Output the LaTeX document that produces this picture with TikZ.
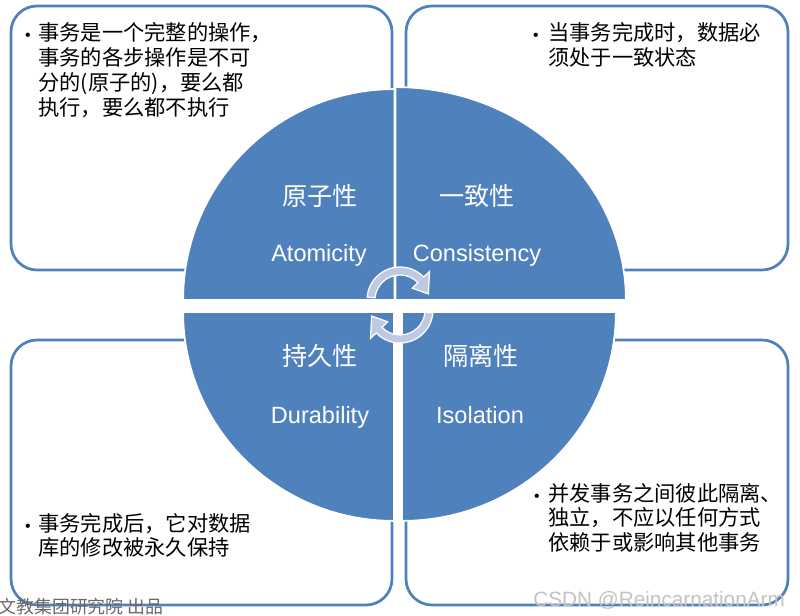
\documentclass[tikz,border=0pt]{standalone}
\usepackage{fontspec}
\setmainfont{Liberation Sans}
\newfontfamily\cjk{Noto Sans CJK SC}
\usetikzlibrary{calc}
\definecolor{acidblue}{RGB}{79,129,189}
\definecolor{arrowfill}{RGB}{190,202,226}
\definecolor{wmdark}{RGB}{105,105,105}
\definecolor{wmlight}{RGB}{195,195,195}
\begin{document}
\begin{tikzpicture}[x=0.02cm,y=0.02cm,
  panel/.style={draw=acidblue, line width=1.55pt, rounded corners=0.52cm, fill=white},
  quad/.style={fill=acidblue, draw=white, line width=1pt},
  boxtext/.style={inner sep=0pt, anchor=base west, text width=6cm, align=left, font=\cjk\fontsize{12.1pt}{0.5cm}\selectfont},
  bulletmark/.style={inner sep=0pt, anchor=base, font=\fontsize{9pt}{10pt}\selectfont},
  cnlabel/.style={inner sep=0pt, anchor=base, text=white, font=\cjk\fontsize{14.3pt}{16pt}\selectfont},
  enlabel/.style={inner sep=0pt, anchor=base, text=white, font=\fontsize{13.4pt}{16pt}\selectfont},
  cyclearrow/.style={fill=arrowfill, draw=white, line width=0.7pt, line join=miter}
]
\useasboundingbox (0,0) rectangle (800,615);

% panels
\draw[panel] (11,609) rectangle (392,345);
\draw[panel] (406,609) rectangle (788,345);
\draw[panel] (11,275) rectangle (392,10);
\draw[panel] (406,275) rectangle (788,10);

% quadrants
\path[quad] (394.4,315.1) -- (183.1,315.1) arc[start angle=180, end angle=90, x radius=211.3, y radius=210.8] -- cycle;
\path[quad] (395.6,315.1) -- (395.6,527.9) arc[start angle=90, end angle=0, x radius=230.3, y radius=212.8] -- cycle;
\path[quad] (393.9,302.9) -- (183.1,302.9) arc[start angle=180, end angle=270, x radius=210.8, y radius=208.8] -- cycle;
\path[quad] (402.1,302.9) -- (615.9,302.9) arc[start angle=0, end angle=-90, x radius=213.8, y radius=208.8] -- cycle;

% quadrant labels
\node[cnlabel] (cnA) at (320,409) {原子性};
\node[enlabel] (enA) at (319,353) {Atomicity};
\node[cnlabel] (cnC) at (477,409) {一致性};
\node[enlabel] (enC) at (477,353) {Consistency};
\node[cnlabel] (cnD) at (320,249) {持久性};
\node[enlabel] (enD) at (320,192) {Durability};
\node[cnlabel] (cnI) at (481,249) {隔离性};
\node[enlabel] (enI) at (480,192) {Isolation};

% cycle arrows
\coordinate (c1) at (400,315);
\coordinate (c2) at (400,305);
\path[cyclearrow] ($(c1)+(175:33)$) arc[start angle=175, end angle=44, radius=33]
  -- ($(c1)+(44:41)$) -- ($(c1)+(12:29)$) -- ($(c1)+(44:17)$) -- ($(c1)+(44:25)$)
  arc[start angle=44, end angle=175, radius=25] -- cycle;
\path[cyclearrow] ($(c2)+(355:33)$) arc[start angle=355, end angle=224, radius=33]
  -- ($(c2)+(224:41)$) -- ($(c2)+(192:29)$) -- ($(c2)+(224:17)$) -- ($(c2)+(224:25)$)
  arc[start angle=224, end angle=355, radius=25] -- cycle;

% panel texts
\node[bulletmark] (bTL) at (28,574) {•};
\node[boxtext] (tTL) at (38,574) {事务是一个完整的操作，\\事务的各步操作是不可\\分的(原子的)，要么都\\执行，要么都不执行};
\node[bulletmark] (bTR) at (536,574) {•};
\node[boxtext] (tTR) at (548,574) {当事务完成时，数据必\\须处于一致状态};
\node[bulletmark] (bBL) at (28,84) {•};
\node[boxtext] (tBL) at (38,84) {事务完成后，它对数据\\库的修改被永久保持};
\node[bulletmark] (bBR) at (537,114) {•};
\node[boxtext] (tBR) at (548,114) {并发事务之间彼此隔离、\\独立，不应以任何方式\\依赖于或影响其他事务};

% watermarks
\node[anchor=base west, inner sep=0pt, text=wmdark, font=\cjk\fontsize{10.2pt}{11pt}\selectfont] (wm1) at (-2,2) {文教集团研究院 出品};
\node[anchor=base west, inner sep=0pt, text=wmlight, font=\fontsize{11.8pt}{13pt}\selectfont] (wm2) at (533,9) {CSDN @ReincarnationArm};
\end{tikzpicture}
\end{document}
